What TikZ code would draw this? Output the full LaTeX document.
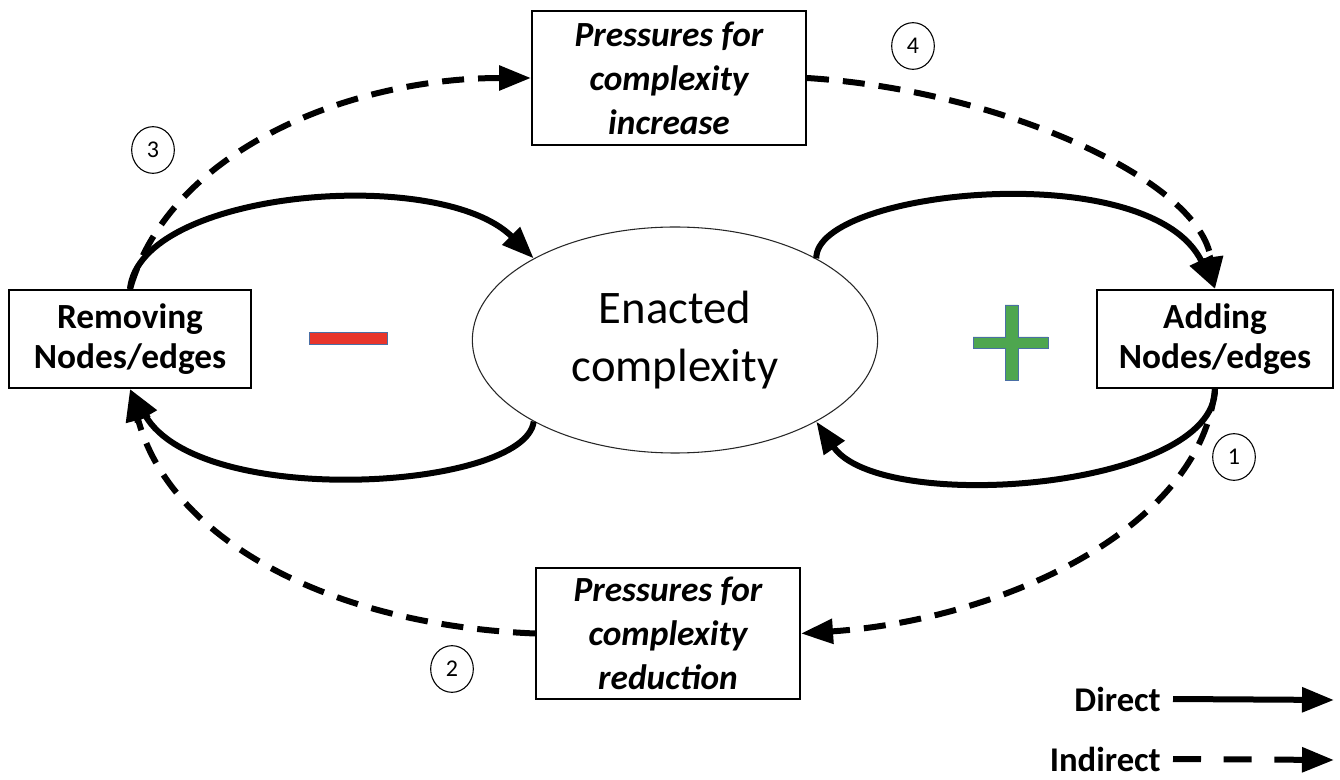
\documentclass[tikz,border=0pt]{standalone}
\usepackage{fontspec}
\setmainfont{Carlito}
\usetikzlibrary{arrows.meta, shapes.geometric}
\definecolor{minusred}{HTML}{E8352B}
\definecolor{plusgreen}{HTML}{4EA64F}
\definecolor{signedge}{HTML}{4A6FA5}
\tikzset{
    box/.style={rectangle, draw=black, line width=1.5pt, fill=white, align=center, inner sep=2pt},
    actbox/.style={box, font=\fontsize{26.5}{30}\selectfont\bfseries},
    pressbox/.style={box, font=\fontsize{26.5}{33}\selectfont\bfseries\itshape},
    numcirc/.style={ellipse, draw=black, line width=0.8pt, inner sep=0pt, minimum width=32pt, minimum height=35pt, font=\fontsize{18}{20}\selectfont},
    direct/.style={-{Triangle[length=24pt, width=18pt]}, line width=4.5pt},
    indirect/.style={direct, dash pattern=on 16.5pt off 10.5pt},
    legendtext/.style={font=\fontsize{26}{30}\selectfont\bfseries, anchor=east, inner sep=0pt}
}

\begin{document}
\begin{tikzpicture}[x=0.75pt, y=-0.75pt]
    \useasboundingbox (0,0) rectangle (1340,780);
    % centre and the two action boxes
    \node[ellipse, draw=black!85, line width=0.8pt, minimum width=304pt, minimum height=169.5pt,
          font=\fontsize{35}{43.5}\selectfont, align=center] (ell) at (675,340) {Enacted\\complexity};
    \node[actbox, minimum width=181.5pt, minimum height=73.5pt] (lbox) at (130,339) {Removing\\Nodes/edges};
    \node[actbox, minimum width=177pt, minimum height=73.5pt] (rbox) at (1215,339) {Adding\\Nodes/edges};
    % pressure boxes
    \node[pressbox, minimum width=205.5pt, minimum height=100.5pt] (tbox) at (669,78) {Pressures for\\complexity\\increase};
    \node[pressbox, minimum width=198pt, minimum height=98pt] (bbox) at (668,633.5) {Pressures for\\complexity\\reduction};
    % minus and plus signs
    \filldraw[fill=minusred, draw=signedge, line width=0.5pt] (309,332) rectangle (387,344);
    \filldraw[fill=plusgreen, draw=signedge, line width=0.5pt]
        (1005,305) -- (1018,305) -- (1018,337) -- (1048,337) -- (1048,348) -- (1018,348)
        -- (1018,380) -- (1005,380) -- (1005,348) -- (973,348) -- (973,337) -- (1005,337) -- cycle;
    % direct loops
    \draw[direct] (lbox.north) .. controls (140,190) and (440,165) .. (ell.150);
    \draw[direct] (ell.210) .. controls (525,490) and (200,510) .. (lbox.south);
    \draw[direct] (ell.30) .. controls (815,190) and (1150,155) .. (rbox.north);
    \draw[direct] (rbox.south) .. controls (1215,490) and (880,515) .. (ell.-30);
    % indirect loop
    \draw[indirect] (lbox.north) .. controls (170,150) and (350,78) .. (tbox.west);
    \draw[indirect] (tbox.east) .. controls (1000,90) and (1200,180) .. (rbox.north);
    \draw[indirect] (rbox.south) .. controls (1200,530) and (1000,620) .. (bbox.east);
    \draw[indirect] (bbox.west) .. controls (330,625) and (170,540) .. (lbox.south);
    % step numbers
    \node[numcirc] (n1) at (1234,457) {1};
    \node[numcirc] (n2) at (452,669) {2};
    \node[numcirc] (n3) at (153,150) {3};
    \node[numcirc] (n4) at (913,46) {4};
    % legend
    \node[legendtext] (ldirect) at (1161,699) {Direct};
    \node[legendtext] (lindirect) at (1161,759) {Indirect};
    \coordinate (dend) at (1334,700);
    \coordinate (iend) at (1334,760);
    \draw[direct] ([xshift=9pt]ldirect.east) -- (dend);
    \draw[direct, dash pattern=on 21pt off 17pt] ([xshift=9pt]lindirect.east) -- (iend);
\end{tikzpicture}
\end{document}
